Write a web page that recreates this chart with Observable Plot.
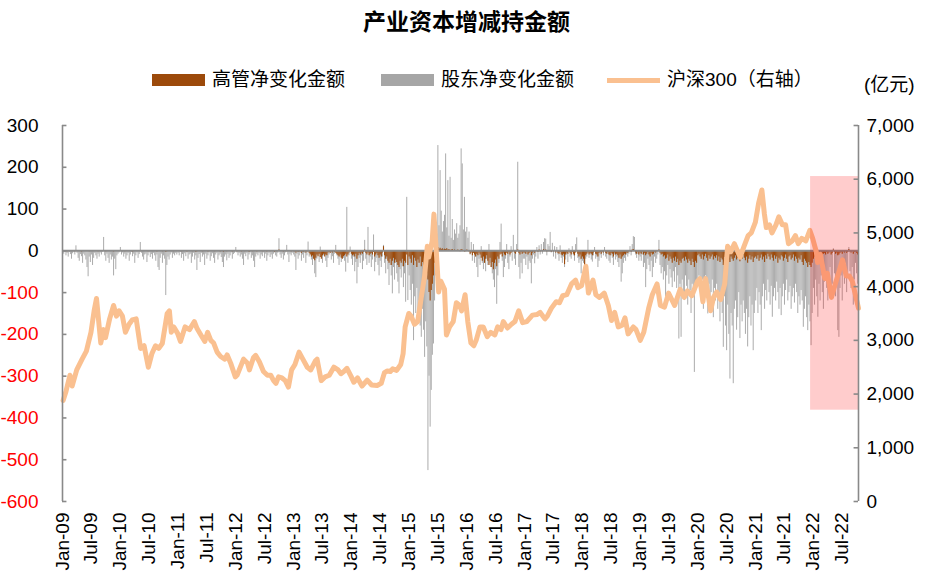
<!DOCTYPE html>
<html><head><meta charset="utf-8">
<script src="https://cdn.jsdelivr.net/npm/d3@7"></script>
<script src="https://cdn.jsdelivr.net/npm/@observablehq/plot@0.6"></script>
<style>
body{margin:0;background:#fff;font-family:"Liberation Sans","Noto Sans CJK SC",sans-serif;color:#000}
#wrap{position:relative;width:947px;height:583px;overflow:hidden;background:#fff}
#head{position:relative;height:110px}
.title{position:absolute;left:0;width:933px;text-align:center;top:8px;line-height:28px;font-size:23px;font-weight:bold}
.leg{position:absolute;top:68px;height:24px;line-height:24px;font-size:19px;display:flex;align-items:center;white-space:nowrap}
.sw{display:inline-block;width:53px;height:12px;margin-right:7px}
.unit{position:absolute;top:73px;left:864px;font-size:19px;line-height:24px}
</style></head>
<body>
<div id="wrap">
  <div id="head">
    <div class="title">产业资本增减持金额</div>
    <div class="leg" style="left:152px"><span class="sw" style="background:#9C4A0B"></span>高管净变化金额</div>
    <div class="leg" style="left:381px"><span class="sw" style="background:#A6A6A6"></span>股东净变化金额</div>
    <div class="leg" style="left:607px"><span class="sw" style="background:#FAC090;height:5px"></span>沪深300（右轴）</div>
    <div class="unit">(亿元)</div>
  </div>
  <div id="chart"></div>
</div>
<script>
// ---------- data ----------
// weekly shareholder (股东) net change, 亿元, one array per year (weeks from Jan 2)
const gray2009 = [-5,-8,-3,-12,-6,-15,-4,-9,-20,-7,-3,-10,12,-6,-18,-25,-9,-14,-30,-8,-12,-22,-40,-62,-15,-28,-10,-35,-18,-6,-12,-20,-8,-15,-5,-10,-3,32,-12,-25,-8,-18,-30,-10,-22,-15,-60,-20,-45,-12,-8,-5];
const gray2010 = [8,-10,-5,-15,-8,-20,-12,-6,-25,-10,-4,-14,-8,-30,-12,-5,-18,-9,20,-6,-15,-22,-10,-8,-28,-12,-5,-16,-9,-20,-6,-12,-25,-10,-40,-47,-18,-8,-30,-12,-20,-107,-35,-15,-22,-10,-5,-18,-8,-12,-6,-10];
const gray2011 = [-6,-12,-4,-18,-9,-25,-7,-14,-5,-20,-10,-8,-30,-15,-6,-22,-12,-47,-18,-9,-28,-6,-15,-10,-35,-8,-20,-12,-5,-25,-14,-7,-18,-30,-10,-6,-22,-12,-8,-16,-28,-40,-15,-10,-24,-8,-18,-12,-5,-20,-9,-6];
const gray2012 = [8,-5,-12,-6,-15,-10,-20,-35,-8,-14,-6,-22,-10,-5,-18,-12,-25,-40,-15,-8,-12,-6,-20,-10,-14,-5,-18,-8,-25,-12,-6,-16,-10,-20,-8,-5,-12,-15,-6,29,-10,-18,-8,-22,-12,-5,13,-10,-28,-8,-12,-6];
const gray2013 = [-10,-15,-47,-8,-20,-12,-5,-25,-10,-18,-6,-30,-12,21,-15,-8,-22,-35,-12,-55,-64,-20,-10,-28,9,-15,-30,-12,-8,-25,-40,-18,-10,-6,-22,-14,-30,-8,13,-12,-20,-35,-15,-28,-10,-18,-25,-51,104,-30,-12,9];
const gray2014 = [-20,-35,-15,-50,-28,-79,-40,-18,-30,-12,-45,-25,25,-20,-35,56,-30,-15,-40,-22,38,-50,-28,-18,-35,-60,-25,-40,-15,13,-30,-55,-20,-45,-83,-35,-60,-103,-40,-70,-30,-55,-75,-103,-45,-65,-38,-88,-55,-123,128,-119];
const gray2015 = [-60,-95,-130,-80,-215,-110,-150,-90,-160,-120,-180,-207,-140,-190,-255,-170,-230,-526,-300,-422,-334,-250,-223,-120,-60,40,252,60,192,95,45,70,85,232,55,168,35,176,30,75,25,50,40,65,30,40,60,244,208,50,128,45];
const gray2016 = [56,30,45,-10,20,-25,15,-30,-15,-40,-64,-20,-35,10,-30,-45,-25,-50,-20,-35,15,-30,-40,-55,-70,-88,-45,-128,-60,-30,20,64,-25,-64,-40,-20,15,-30,-45,-15,10,-25,37,-20,-35,15,212,-40,-68,-30,-55,-20];
const gray2017 = [-20,-35,-15,-45,-25,-30,-79,-20,-10,-31,-15,8,-20,12,-10,15,-8,20,29,28,-12,15,10,44,-5,18,-15,10,-20,8,-10,-25,12,-18,-30,-15,-40,-22,-10,-28,5,-15,-20,10,-12,-25,15,31,-18,-30,-22,-55];
const gray2018 = [-25,-30,-45,-20,-15,25,-18,-10,-22,-27,-12,8,-20,-15,-40,-25,-10,-18,-5,-12,8,-15,-20,-8,-25,-30,-12,-18,-35,-10,-22,-15,-28,-40,-20,-75,-55,-30,-18,-25,-10,-15,-8,10,-12,15,34,32,-10,-18,-8,-25];
const gray2019 = [-15,-25,-10,-40,-30,-88,-45,-20,-35,-50,-25,-64,-40,-15,-30,-20,-10,25,-35,-55,-40,-70,-50,-111,-60,-35,-80,-45,-65,-88,-50,-75,-40,-90,-60,-211,-80,-207,-70,-100,-119,-60,-85,-130,-70,-95,-150,-80,-110,-291,-90,-70];
const gray2020 = [-80,-60,-95,-120,-70,-140,-90,-60,-110,-151,-80,-130,-100,-70,-160,-90,-120,-80,-140,-100,-170,-120,-150,-231,-110,-180,-239,-130,-200,-307,-150,-180,-318,-140,-120,-190,-160,-100,-210,-130,-170,-120,-150,-200,-140,-230,-160,-110,-180,-130,-239,-150];
const gray2021 = [-120,-90,-150,-100,-130,-191,-110,-80,-140,-95,-120,-70,-100,-130,-85,-159,-110,-90,-120,-75,-100,-140,-90,-155,-110,-80,-130,-95,-70,-120,-100,-85,-140,-110,-90,-125,-80,-100,-150,-110,-130,-95,-120,-183,-140,-110,-160,-191,-130,-170,-227,-150];
const gray2022 = [-90,-130,-70,-110,-159,-80,-120,-60,-100,-140,-75,-50,-90,-120,-65,-40,-100,-80,5,-55,-110,-70,-191,-207,-90,-60,-120,-45,-80,-30,-100,-60,8,-50,-90,-40,-130,-70,-30,-55,-80];

// weekly executive (高管) net change, 亿元
const brown2009 = [0,-1,0,0,-2,0,0,-1,0,0,0,-2,0,0,-1,0,0,-3,0,0,-1,0,0,0,-2,0,0,-1,0,0,0,0,-2,0,0,-1,0,0,0,-2,0,0,0,-1,0,0,-3,0,0,-1,0,0];
const brown2010 = [0,0,-1,0,-2,0,0,0,-1,0,0,-3,0,0,0,-1,0,0,-2,0,0,-1,0,0,0,-2,0,0,-1,0,0,0,0,-3,0,0,-1,0,-2,0,0,-4,-2,0,0,-1,0,0,-2,0,0,-1];
const brown2011 = [0,-1,0,-2,0,0,-1,0,-3,0,0,-1,0,-2,0,0,-4,-2,0,-1,0,0,-2,0,0,-1,0,-3,0,0,-1,0,0,-2,0,-1,0,0,-3,0,-1,-4,0,0,-2,0,-1,0,0,-3,0,-1];
const brown2012 = [0,-2,0,-1,0,-3,0,0,-2,0,-1,0,-4,0,0,-2,-1,0,0,-3,0,-1,0,0,-2,0,-1,0,-3,0,0,-2,0,-1,0,-4,0,-2,0,2,0,-1,0,-3,0,0,-2,0,-1,0,-3,0];
const brown2013 = [-2,-3,-5,-2,-4,-3,-2,-6,-3,-4,-2,-5,-3,-2,-6,-10,-15,-12,-20,-24,-18,-10,-14,-8,-16,-20,-12,-8,-15,-10,-12,-5,-4,-6,-3,-5,-2,-4,-6,-8,-12,-15,-10,-18,-20,-14,-12,-8,-15,-10,-5,-3];
const brown2014 = [-8,-12,-10,-15,-8,-20,-12,-6,-10,-5,-8,-4,2,-6,-10,-5,-12,-8,-6,-10,-4,-15,-10,-6,-12,-18,-10,-15,-5,10,-12,-20,-15,-25,-30,-20,-35,-25,-18,-30,-22,-28,-35,-40,-25,-30,-20,-38,-25,-30,-10,-35];
const brown2015 = [-15,-20,-30,-12,-35,-18,-25,-40,-22,-30,-15,-38,-28,-45,-50,-35,-55,-70,-100,-120,-95,-80,-60,-30,-10,5,8,4,6,3,5,2,4,3,5,2,3,0,2,3,0,2,0,1,2,0,-2,3,2,0,-3,-2];
const brown2016 = [2,0,-3,-8,-5,-12,-6,-10,-15,-8,-12,-5,-10,-18,-25,-15,-30,-20,-12,-25,-35,-18,-40,-28,-45,-30,-22,-38,-15,-20,-10,-8,-15,-5,-10,-12,-6,-8,-4,-10,-6,-3,0,-5,-8,-3,2,-6,-10,-4,-8,-5];
const brown2017 = [-5,-8,-3,-10,-6,-4,-12,-5,-3,-6,-2,0,-4,2,-3,0,-2,3,0,2,-3,0,-2,1,-4,0,-3,0,-5,-2,-6,-8,-4,-10,-12,-8,-33,-10,-5,-8,-3,-6,-10,-4,-8,-12,-5,0,-8,-15,-10,-20];
const brown2018 = [-15,-20,-43,-12,-8,-5,-10,-6,-8,-12,-5,-3,-8,-10,-15,-6,-4,-8,-3,-5,0,-6,-8,-4,-10,-12,-6,-8,-15,-5,-10,-8,-12,-18,-10,-20,-15,-12,-8,-10,-5,-6,-3,0,-4,2,3,0,-5,-8,-3,-10];
const brown2019 = [-5,-8,-3,-10,-6,-12,-8,-4,-10,-15,-6,-10,-8,-3,-5,-2,0,2,-6,-10,-8,-15,-12,-20,-18,-10,-25,-15,-20,-30,-18,-25,-15,-28,-20,-35,-25,-30,-20,-18,-25,-15,-22,-30,-20,-25,-35,-20,-28,-40,-25,-30];
const brown2020 = [-12,-8,-15,-20,-10,-22,-14,-8,-18,-25,-12,-20,-15,-10,-22,-14,-18,-12,-25,-15,-28,-18,-22,-35,-16,-25,-30,-18,-22,-28,-15,-20,-25,-18,-12,-22,-18,-14,-26,-15,-20,-12,-18,-24,-15,-30,-20,-12,-22,-15,-28,-18];
const brown2021 = [-15,-20,-12,-25,-18,-10,-22,-15,-28,-12,-20,-8,-15,-22,-10,-18,-25,-12,-20,-15,-30,-18,-22,-12,-15,-25,-18,-10,-20,-28,-15,-12,-22,-18,-10,-25,-15,-20,-30,-18,-22,-12,-28,-35,-20,-25,-30,-40,-28,-35,-40,-30];
const brown2022 = [-20,-15,-10,-12,-8,-15,-10,-5,-12,-8,-6,-10,-4,-8,-5,-3,-10,-6,2,-4,-8,-5,-12,-10,-6,-4,-8,-3,-5,-2,-6,-4,3,-3,-5,-2,-8,-4,-3,-6,-10];

// CSI 300 (right axis)
const hsDates = ["2009-01-05","2009-01-23","2009-02-17","2009-03-03","2009-04-01","2009-05-05","2009-06-01","2009-06-30","2009-07-20","2009-08-04","2009-08-31","2009-09-18","2009-09-30","2009-10-26","2009-11-20","2009-12-08","2009-12-25",
"2010-01-15","2010-02-03","2010-02-26","2010-03-18","2010-04-12","2010-05-10","2010-06-01","2010-06-28","2010-07-20","2010-08-12","2010-09-01","2010-09-24","2010-10-25","2010-11-08","2010-11-20","2010-12-06","2010-12-30",
"2011-01-17","2011-02-15","2011-03-15","2011-04-15","2011-05-02","2011-05-30","2011-06-20","2011-07-08","2011-07-28","2011-08-15","2011-09-06","2011-09-28","2011-10-24","2011-11-08","2011-11-30","2011-12-30",
"2012-01-10","2012-02-20","2012-03-15","2012-03-28","2012-04-23","2012-05-07","2012-05-30","2012-06-25","2012-07-20","2012-08-10","2012-08-28","2012-09-12","2012-09-28","2012-10-20","2012-11-10","2012-11-30","2012-12-20",
"2013-01-10","2013-02-05","2013-03-01","2013-03-29","2013-04-20","2013-05-20","2013-05-30","2013-06-25","2013-07-20","2013-08-15","2013-09-13","2013-10-10","2013-10-28","2013-11-15","2013-12-05","2013-12-31",
"2014-01-17","2014-02-10","2014-03-10","2014-04-12","2014-05-10","2014-06-14","2014-07-10","2014-07-30","2014-08-17","2014-09-05","2014-09-20","2014-10-15","2014-11-10","2014-11-25","2014-12-08","2014-12-31",
"2015-01-15","2015-02-05","2015-02-25","2015-03-20","2015-04-10","2015-04-27","2015-05-06","2015-05-28","2015-06-08","2015-06-20","2015-07-08","2015-07-22","2015-08-14","2015-08-26","2015-09-15","2015-10-08","2015-10-28","2015-11-18","2015-11-30","2015-12-22",
"2016-01-08","2016-01-28","2016-02-15","2016-03-01","2016-03-25","2016-04-15","2016-05-10","2016-06-01","2016-06-27","2016-07-15","2016-08-05","2016-08-20","2016-09-15","2016-10-10","2016-11-01","2016-11-25","2016-12-20",
"2017-01-15","2017-02-20","2017-03-20","2017-04-10","2017-05-10","2017-05-25","2017-06-20","2017-07-20","2017-08-10","2017-08-30","2017-09-25","2017-10-25","2017-11-20","2017-12-05","2017-12-28",
"2018-01-24","2018-02-09","2018-03-10","2018-03-28","2018-04-20","2018-05-20","2018-06-15","2018-07-05","2018-07-25","2018-08-17","2018-09-10","2018-09-28","2018-10-18","2018-11-20","2018-12-07",
"2019-01-03","2019-01-25","2019-02-25","2019-03-20","2019-04-19","2019-05-10","2019-06-05","2019-07-01","2019-08-08","2019-09-12","2019-10-08","2019-10-28","2019-11-25","2019-12-31",
"2020-01-15","2020-02-03","2020-02-20","2020-03-23","2020-04-10","2020-04-30","2020-05-25","2020-06-20","2020-07-08","2020-07-28","2020-08-20","2020-09-25","2020-10-20","2020-11-15","2020-12-05","2020-12-31",
"2021-01-20","2021-02-10","2021-02-26","2021-03-10","2021-03-30","2021-04-15","2021-05-10","2021-05-28","2021-06-20","2021-07-10","2021-07-28","2021-08-20","2021-09-10","2021-09-28","2021-10-20","2021-11-15","2021-12-10","2021-12-28",
"2022-01-20","2022-01-28","2022-02-15","2022-03-15","2022-03-31","2022-04-26","2022-05-20","2022-06-15","2022-07-05","2022-07-28","2022-08-17","2022-09-05","2022-09-28","2022-10-14"];
const hsValues = [1880,2050,2350,2150,2450,2650,2800,3150,3550,3780,2950,3200,3050,3400,3650,3450,3550,
3450,3150,3300,3380,3400,2850,2900,2500,2750,2900,2850,2940,3500,3550,3150,3250,3130,
2980,3250,3200,3350,3220,3080,2980,3150,3000,2950,2780,2700,2650,2730,2580,2320,
2350,2650,2580,2450,2680,2720,2600,2420,2350,2350,2250,2200,2320,2300,2250,2130,2450,
2550,2780,2650,2500,2450,2620,2650,2250,2320,2350,2500,2450,2380,2420,2480,2330,
2220,2300,2150,2260,2170,2160,2200,2400,2430,2420,2470,2440,2550,2750,3250,3500,
3450,3300,3350,3800,4200,4750,4550,4850,5350,4800,3900,4100,3950,3100,3250,3350,3700,3650,3550,3850,
3350,2950,2900,3000,3250,3250,3070,3150,3100,3250,3200,3350,3230,3300,3350,3550,3330,
3350,3470,3480,3520,3400,3450,3600,3720,3700,3830,3850,4050,4120,3980,4020,
4380,3880,4120,3850,3800,3880,3650,3370,3520,3250,3280,3420,3120,3250,3200,
3000,3150,3600,3850,4050,3650,3620,3880,3650,3950,3800,3920,3830,4100,
4150,3720,4150,3550,3800,3900,3760,4050,4750,4650,4800,4550,4750,4950,5000,5200,
5550,5800,5350,5100,5150,5000,5150,5300,5150,5150,4800,4850,4950,4800,4900,4850,5050,4900,
4650,4450,4600,4150,4250,3800,4050,4300,4500,4200,4200,4100,3800,3600];

// axes
const leftTicks = [-600,-500,-400,-300,-200,-100,0,100,200,300];
const rightTicks = [0,1000,2000,3000,4000,5000,6000,7000];
const xTickYears = [2009,2010,2011,2012,2013,2014,2015,2016,2017,2018,2019,2020,2021,2022];
const xStart = "2009-01-01", xEnd = "2022-10-14";
// highlighted period (right-axis units)
const highlight = {start: "2021-12-15", end: "2022-10-14", low: 1700, high: 6050};

// ---------- build ----------
const grayYears = {2009:gray2009,2010:gray2010,2011:gray2011,2012:gray2012,2013:gray2013,2014:gray2014,2015:gray2015,2016:gray2016,2017:gray2017,2018:gray2018,2019:gray2019,2020:gray2020,2021:gray2021,2022:gray2022};
const brownYears = {2009:brown2009,2010:brown2010,2011:brown2011,2012:brown2012,2013:brown2013,2014:brown2014,2015:brown2015,2016:brown2016,2017:brown2017,2018:brown2018,2019:brown2019,2020:brown2020,2021:brown2021,2022:brown2022};
function weekly(byYear){
  const out = [];
  for (const y of Object.keys(byYear)) byYear[y].forEach((v,i) => out.push({date: new Date(Date.UTC(+y, 0, 2 + 7*i)), v}));
  return out;
}
const grayData = weekly(grayYears), brownData = weekly(brownYears);
const parse = d3.utcParse("%Y-%m-%d");
const hs = hsDates.map((d,i) => ({date: parse(d), v: hsValues[i]}));
const toLeft = v => v * 900 / 7000 - 600;
const x0 = parse(xStart), x1 = parse(xEnd);
const xTicks = [];
for (const y of xTickYears) { xTicks.push(new Date(Date.UTC(y,0,1))); xTicks.push(new Date(Date.UTC(y,6,1))); }
const xTicksIn = xTicks.filter(d => d <= x1);
const fmtX = d3.utcFormat("%b-%y");
const axisCol = "#898989";
const tickLen = 28; // days

const chart = Plot.plot({
  width: 947, height: 473,
  marginTop: 15, marginRight: 89, marginBottom: 82, marginLeft: 62,
  style: {fontFamily: '"Liberation Sans","Noto Sans CJK SC",sans-serif', background: "#fff", overflow: "visible"},
  x: {type: "utc", domain: [x0, x1], axis: null},
  y: {domain: [-600, 300], axis: null},
  marks: [
    Plot.ruleX(grayData, {x: "date", y1: 0, y2: "v", stroke: "#A6A6A6", strokeWidth: 0.95}),
    Plot.ruleX(brownData, {x: "date", y1: 0, y2: "v", stroke: "#9C4A0B", strokeWidth: 1.1}),
    Plot.ruleY([0], {stroke: "#8C8C8C", strokeWidth: 2}),
    Plot.line(hs, {x: "date", y: d => toLeft(d.v), stroke: "#FAC090", strokeWidth: 5, strokeLinejoin: "round", strokeLinecap: "round"}),
    Plot.rect([highlight], {x1: d => parse(d.start), x2: d => parse(d.end), y1: d => toLeft(d.low), y2: d => toLeft(d.high), fill: "#FF0000", fillOpacity: 0.2}),
    // axis lines
    Plot.ruleX([x0], {stroke: axisCol, strokeWidth: 1.6}),
    Plot.ruleX([x1], {stroke: axisCol, strokeWidth: 1.6}),
    // inward tick marks
    Plot.ruleY(leftTicks, {y: d => d, x1: x0, x2: d3.utcDay.offset(x0, tickLen), stroke: axisCol, strokeWidth: 1.6}),
    Plot.ruleY(rightTicks, {y: d => toLeft(d), x1: d3.utcDay.offset(x1, -tickLen), x2: x1, stroke: axisCol, strokeWidth: 1.6}),
    // left labels
    Plot.text(leftTicks.filter(d => d >= 0), {x: () => x0, y: d => d, text: d => String(d), textAnchor: "end", dx: -24, fontSize: 19, fill: "#000"}),
    Plot.text(leftTicks.filter(d => d < 0), {x: () => x0, y: d => d, text: d => String(d), textAnchor: "end", dx: -24, fontSize: 19, fill: "#FF0000"}),
    // right labels
    Plot.text(rightTicks, {x: () => x1, y: d => toLeft(d), text: d => d3.format(",")(d), textAnchor: "start", dx: 8, fontSize: 19, fill: "#000"}),
    // x labels
    Plot.axisX(xTicksIn, {anchor: "bottom", tickFormat: fmtX, tickRotate: -90, tickSize: 0, tickPadding: 11, fontSize: 19, fill: "#000"})
  ]
});
document.getElementById("chart").appendChild(chart);
</script>
</body></html>
